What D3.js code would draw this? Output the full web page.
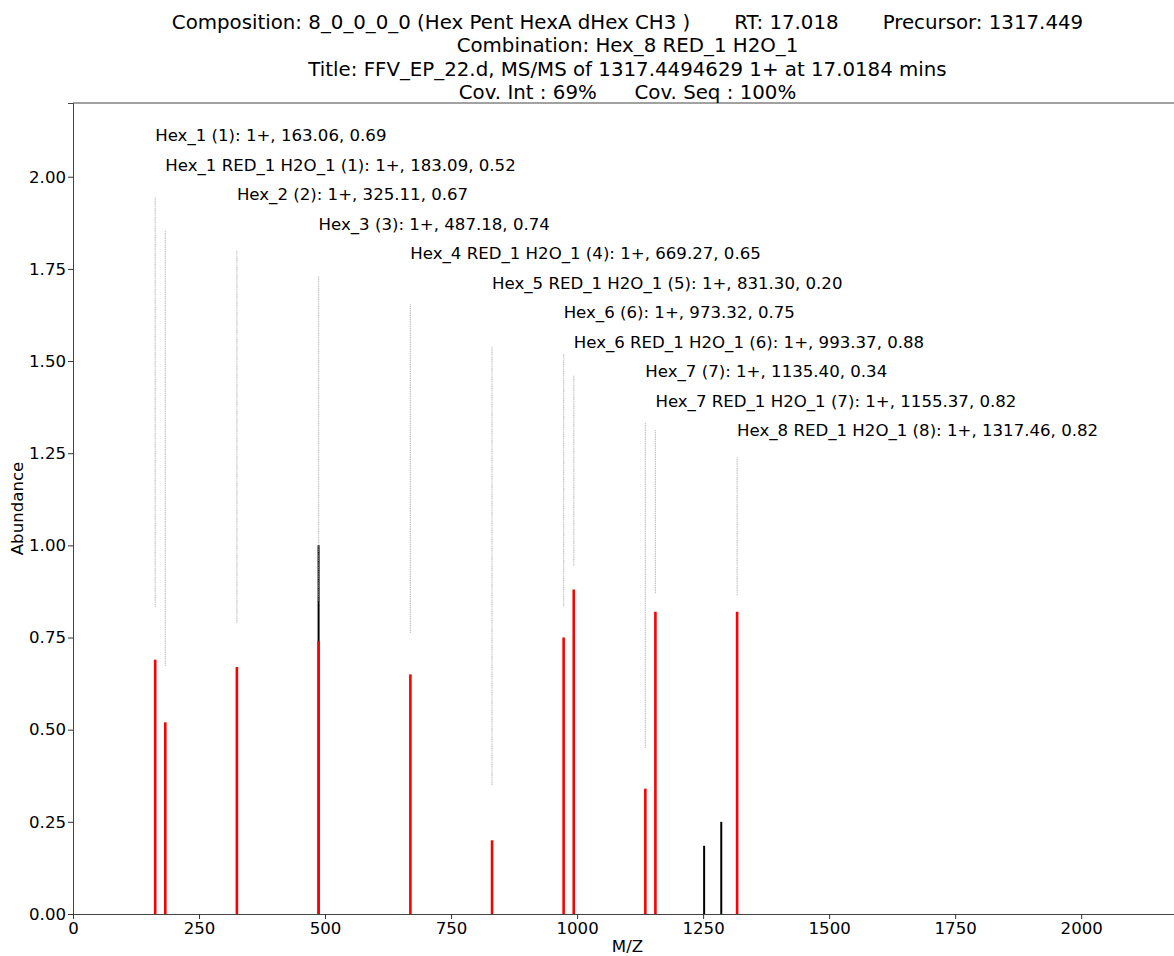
<!DOCTYPE html>
<html>
<head>
<meta charset="utf-8">
<script src="https://cdn.jsdelivr.net/npm/d3@7"></script>
<style>
  body { margin: 0; background: #fff; }
  svg { display: block; font-family: "DejaVu Sans", sans-serif; }
</style>
</head>
<body>
<script>
// matched fragments
const fragNames = ['Hex_1', 'Hex_1 RED_1 H2O_1', 'Hex_2', 'Hex_3', 'Hex_4 RED_1 H2O_1',
  'Hex_5 RED_1 H2O_1', 'Hex_6', 'Hex_6 RED_1 H2O_1', 'Hex_7', 'Hex_7 RED_1 H2O_1', 'Hex_8 RED_1 H2O_1'];
const fragDepth = [1, 1, 2, 3, 4, 5, 6, 6, 7, 7, 8];
const fragMz = [163.06, 183.09, 325.11, 487.18, 669.27, 831.30, 973.32, 993.37, 1135.40, 1155.37, 1317.46];
const fragInt = [0.69, 0.52, 0.67, 0.74, 0.65, 0.20, 0.75, 0.88, 0.34, 0.82, 0.82];
// annotation label heights and dotted guide ends
const labelY = [2.12, 2.04, 1.96, 1.88, 1.80, 1.72, 1.64, 1.56, 1.48, 1.40, 1.32];
const guideLow = [0.833, 0.673, 0.79, 0.85, 0.762, 0.35, 0.835, 0.945, 0.45, 0.87, 0.865];
const guideHigh = [1.946, 1.856, 1.80, 1.73, 1.655, 1.54, 1.52, 1.46, 1.335, 1.313, 1.24];

// unmatched peaks (black)
const otherMz = [487.18, 1252, 1286];
const otherInt = [1.00, 0.185, 0.25];

const xTicks = [0, 250, 500, 750, 1000, 1250, 1500, 1750, 2000];
const yTicks = [0, 0.25, 0.5, 0.75, 1.0, 1.25, 1.5, 1.75, 2.0];

const titleLines = [
  'Composition: 8_0_0_0_0 (Hex Pent HexA dHex CH3 )       RT: 17.018       Precursor: 1317.449',
  'Combination: Hex_8 RED_1 H2O_1',
  'Title: FFV_EP_22.d, MS/MS of 1317.4494629 1+ at 17.0184 mins',
  'Cov. Int : 69%      Cov. Seq : 100%'
];

const width = 1174, height = 956;
const margin = { left: 73, top: 103, right: -8, bottom: 42 };
const fs = 16.6;

const svg = d3.select('body').append('svg')
  .attr('width', width)
  .attr('height', height);

const x = d3.scaleLinear()
  .domain([0, 2200])
  .range([margin.left, width - margin.right]);

const y = d3.scaleLinear()
  .domain([0, 2.2])
  .range([height - margin.bottom, margin.top]);

const g = svg.append('g');

// dotted guide lines
g.append('g').selectAll('line')
  .data(fragMz)
  .join('line')
  .attr('x1', d => x(d)).attr('x2', d => x(d))
  .attr('y1', (d, i) => y(guideLow[i]))
  .attr('y2', (d, i) => y(guideHigh[i]))
  .attr('stroke', '#c4c4c4')
  .attr('stroke-width', 1.2)
  .attr('stroke-dasharray', '1.2,0.6');

// unmatched peaks
g.append('g').selectAll('line')
  .data(otherMz)
  .join('line')
  .attr('x1', d => x(d)).attr('x2', d => x(d))
  .attr('y1', y(0))
  .attr('y2', (d, i) => y(otherInt[i]))
  .attr('stroke', '#000')
  .attr('stroke-width', 2);

// guide drawn over the black peak reads darker, like the original
g.append('line')
  .attr('x1', x(fragMz[3])).attr('x2', x(fragMz[3]))
  .attr('y1', y(guideLow[3])).attr('y2', y(otherInt[0]))
  .attr('stroke', '#999')
  .attr('stroke-width', 1.4)
  .attr('stroke-dasharray', '1.2,0.6')
  .attr('opacity', 0.7);

// matched peaks
g.append('g').selectAll('line')
  .data(fragMz)
  .join('line')
  .attr('x1', d => x(d)).attr('x2', d => x(d))
  .attr('y1', y(0))
  .attr('y2', (d, i) => y(fragInt[i]))
  .attr('stroke', '#ff0000')
  .attr('stroke-width', 2.6);

// annotations
g.append('g').selectAll('text')
  .data(fragMz)
  .join('text')
  .attr('x', d => x(d))
  .attr('y', (d, i) => y(labelY[i]))
  .attr('dy', '0.52em')
  .attr('font-size', fs)
  .attr('fill', '#000')
  .text((d, i) => `${fragNames[i]} (${fragDepth[i]}): 1+, ${d.toFixed(2)}, ${fragInt[i].toFixed(2)}`);

// axes
const xAxis = svg.append('g')
  .attr('transform', `translate(0,${y(0)})`)
  .call(d3.axisBottom(x).tickValues(xTicks).tickSize(5).tickPadding(3).tickFormat(d3.format('d')));

const yAxis = svg.append('g')
  .attr('transform', `translate(${margin.left},0)`)
  .call(d3.axisLeft(y).tickValues(yTicks).tickSize(5).tickPadding(2).tickFormat(d3.format('.2f')));

[xAxis, yAxis].forEach(a => {
  a.selectAll('text').attr('font-size', fs).attr('fill', '#000').attr('font-family', '"DejaVu Sans", sans-serif');
  a.selectAll('line').attr('stroke', '#333');
  a.select('.domain').attr('stroke', '#444').attr('stroke-width', 1);
});

// top spine
svg.append('line')
  .attr('x1', margin.left).attr('x2', width)
  .attr('y1', y(2.2)).attr('y2', y(2.2))
  .attr('stroke', '#444');

// axis labels
svg.append('text')
  .attr('x', (x(0) + x(2200)) / 2)
  .attr('y', 952)
  .attr('text-anchor', 'middle')
  .attr('font-size', fs)
  .text('M/Z');

svg.append('text')
  .attr('transform', `translate(23,${(y(0) + y(2.2)) / 2}) rotate(-90)`)
  .attr('text-anchor', 'middle')
  .attr('font-size', fs)
  .text('Abundance');

// title
svg.append('g').selectAll('text')
  .data(titleLines)
  .join('text')
  .attr('x', (x(0) + x(2200)) / 2)
  .attr('y', (d, i) => 22 + i * 23.3)
  .attr('dy', '0.36em')
  .attr('text-anchor', 'middle')
  .attr('font-size', 19.8)
  .attr('xml:space', 'preserve')
  .style('white-space', 'pre')
  .text(d => d);
</script>
</body>
</html>
